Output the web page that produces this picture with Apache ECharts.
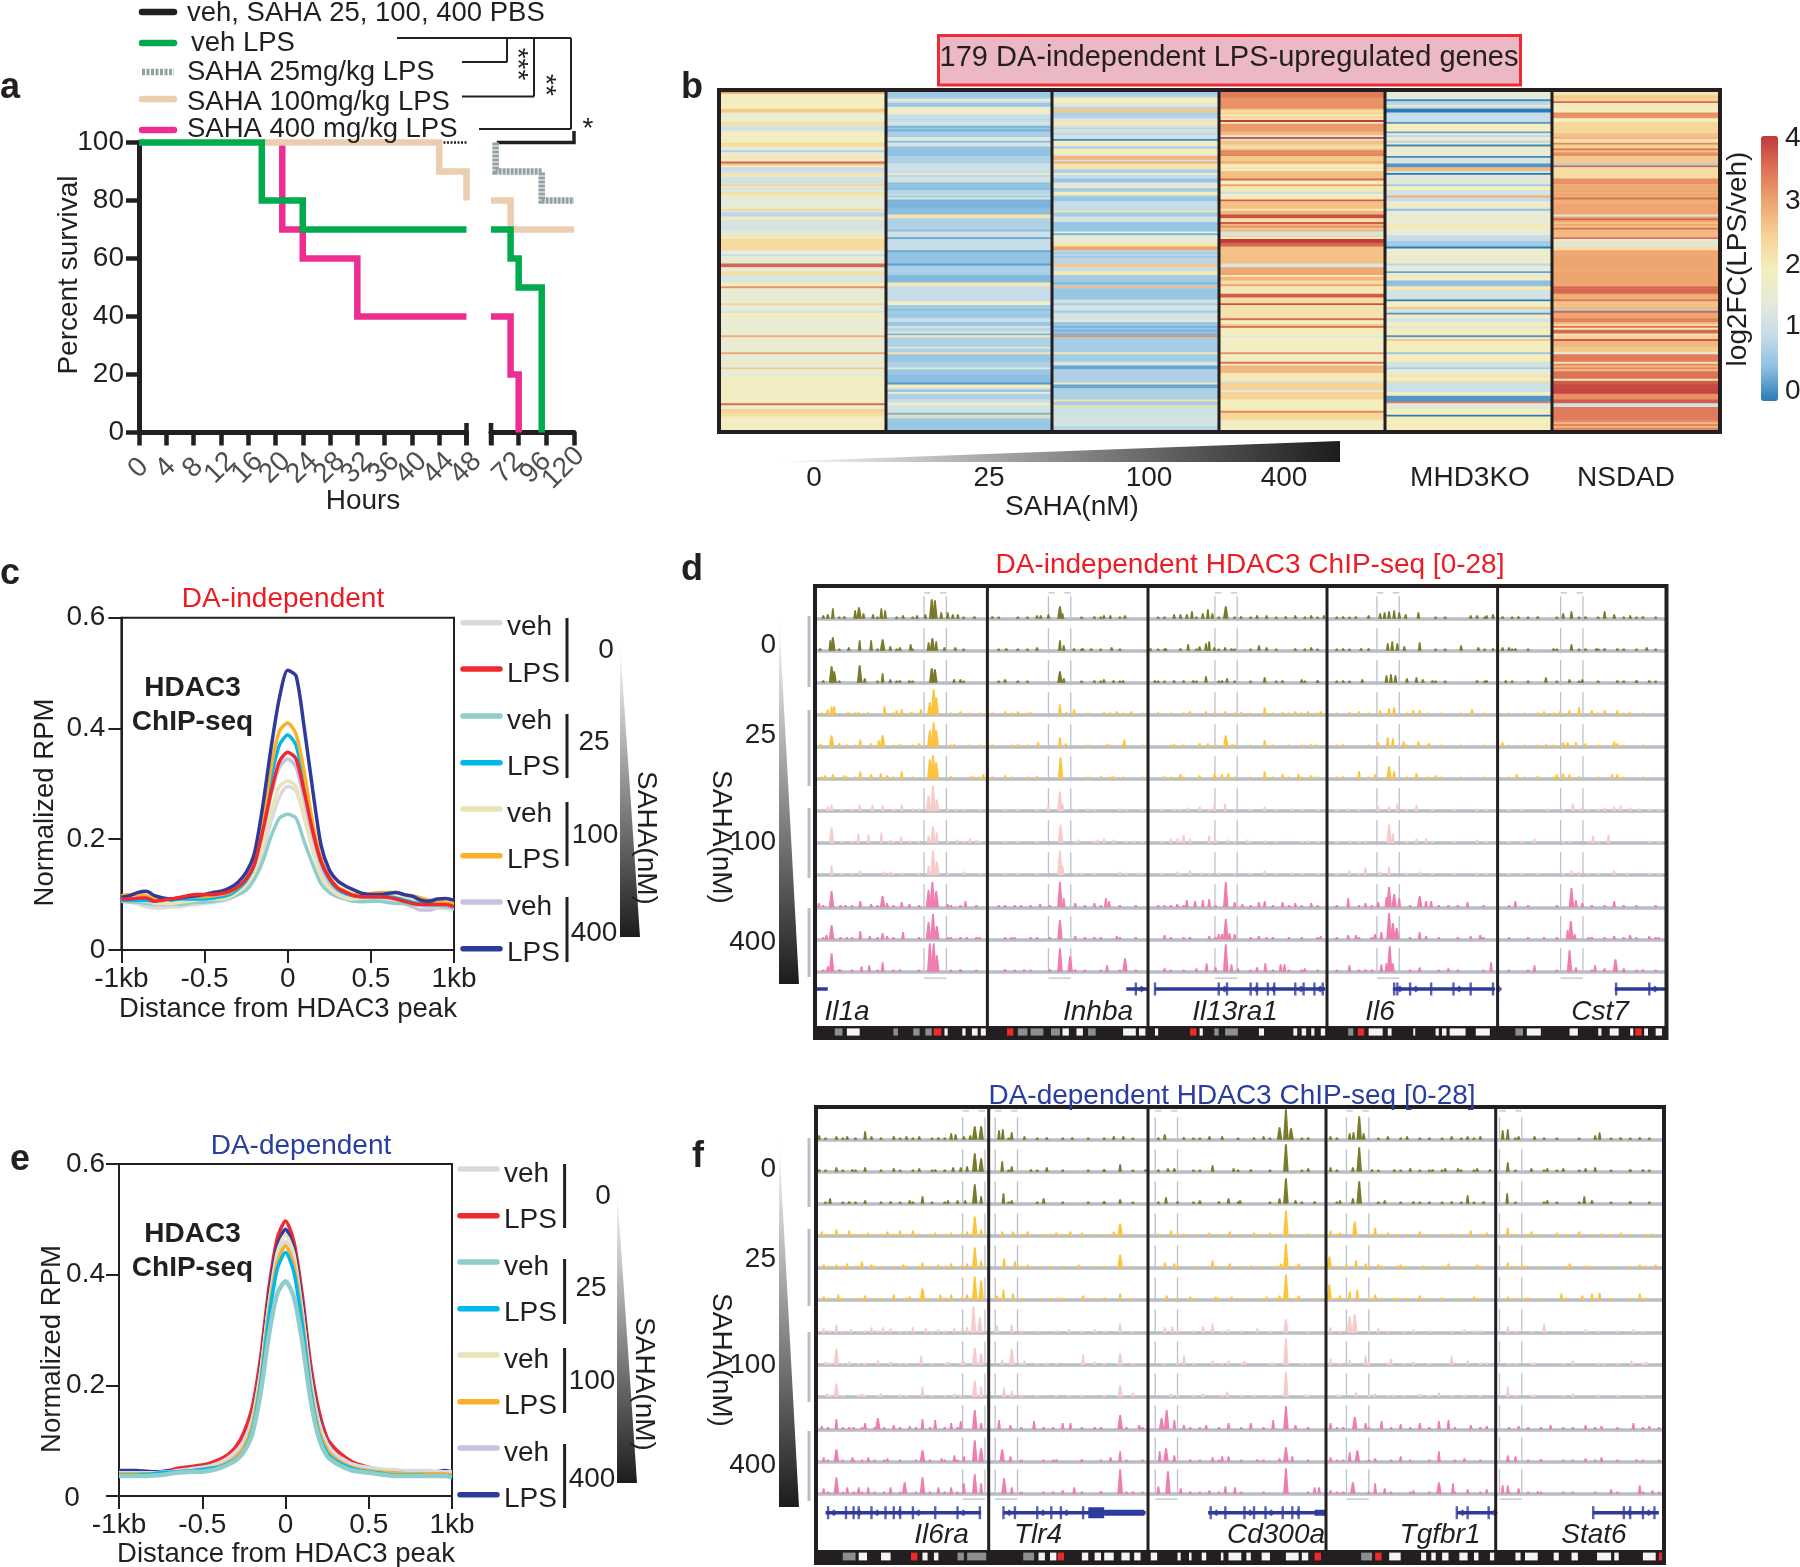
<!DOCTYPE html>
<html><head><meta charset="utf-8"><style>html,body{margin:0;padding:0;background:#fff}#c{width:1800px;height:1567px}</style>
<script src="https://cdn.jsdelivr.net/npm/echarts@6/dist/echarts.min.js"></script></head><body><div id="c"></div>
<script>
// ---------- panel a: survival ----------
const survTicksLeft=[0,4,8,12,16,20,24,28,32,36,40,44,48];
const survTicksRight=[72,96,120];
const blackL=[[0,100],[48,100]];
const blackR=[[53,100],[120,100],[120,104]];
const grayL=[[18,100],[44,100]];
const grayR=[[52,100],[52,90],[92,90],[92,80],[120,80]];
const tanL=[[18,100],[44,100],[44,90],[48,90],[48,80]];
const tanR=[[48,80],[65,80],[65,70],[120,70]];
const pinkL=[[21,100],[21,70],[24,70],[24,60],[32,60],[32,40],[48,40]];
const pinkR=[[48,40],[65,40],[65,20],[72,20],[72,0]];
const greenL=[[0,100],[18,100],[18,80],[24,80],[24,70],[48,70]];
const greenR=[[48,70],[65,70],[65,60],[72,60],[72,50],[92,50],[92,0]];
const survLegend=['veh, SAHA 25, 100, 400 PBS','veh LPS','SAHA 25mg/kg LPS','SAHA 100mg/kg LPS','SAHA 400 mg/kg LPS'];
// ---------- panel b: heatmap ----------
const heatCols=['0','25','100','400','MHD3KO','NSDAD'];
const heat0=[3,2,2,1.9,2.1,1.8,2,1.9,2,2.6,
2.6,1.7,1.7,1.7,1.7,1.7,2.3,2.2,1.2,1.1,
1.3,1.9,2,1.9,1.9,2,1.9,2.4,2.3,1.7,
1.6,.8,1.5,1.6,2.2,1.8,1.8,3.6,2.6,1.9,
1,1,1.2,2.2,2.1,1.2,1.2,1.1,1.3,2.5,
1.4,1.3,1.4,2.3,2.2,1.5,1.5,1.5,1.5,1.5,
1.5,1.5,2.4,1.3,.9,.9,1.5,2.1,1.2,1.2,
1.2,1.2,1.2,1.4,1.4,1.4,2.1,2.1,2.35,2.35,
2.35,2.35,2.35,2.35,1.5,1.5,1,1.5,1.5,1.5,
1.5,3.6,3.6,1.5,1.5,2.3,2.3,1.3,1.3,1.3,
1.3,2,2,3.2,1.6,1.6,1.6,1.6,1.6,1.6,
1.6,1.6,2.5,1.5,1.5,1.5,1.2,1.9,1.9,1.9,
1.6,1.6,1.6,1.6,1.6,1.6,1.6,1.6,1.6,2.9,
1.6,1.6,1.6,1.6,1.6,1.6,1.6,1.6,3,1.5,
1.5,1.5,1.5,2.1,1.5,1.5,2.6,1.6,1.6,1.6,
1.6,1.9,1.9,1.9,1.9,1.9,1.9,1.9,1.9,1.9,
1.9,1.9,1.9,2,1.7,3.6,1.7,1.7,2.5,2.5,
2.3,2.3,1.9,1.9,1.9,1.9,1.9,1.9,1.9];
const heat25=[.65,.65,.65,.9,1.7,1,.6,.6,1.6,1.9,
1.8,1.7,1,1,.9,1,1.2,1.2,.4,.6,
.4,.7,.7,.7,1.4,1.4,.5,1.3,1.3,.55,
.55,.5,.55,.55,.8,.8,.8,.8,1.1,1.1,
1.1,1.1,1,1.8,.9,1.2,1.2,1.2,.5,.5,
.5,.5,.85,.85,1.1,.7,1.3,.4,.4,.4,
.4,.45,.5,.5,.5,2.2,2.2,.8,.8,.8,
.8,.8,.9,.5,1.1,1.1,1.1,.3,1,1,
1,1,1,1,.3,.55,.55,.55,.55,.55,
.55,.25,.75,.75,.75,.75,.75,.45,.45,.45,
.45,2.1,2.1,1,1,1,1,1,1,1,
1,1.9,1.9,.7,.7,.5,.7,.7,.6,.7,
1,1,.6,.6,1.2,.9,.9,1.4,.4,2.1,
.8,.8,.8,.8,.8,1.4,.8,.8,2.2,.6,
.6,.6,.6,.8,.8,.8,1.4,.6,.6,.6,
.5,.5,.5,.5,.2,1.9,1.9,.9,.6,1.7,
.8,.8,.8,1.1,1.1,2,1.1,1.2,1.2,1.2,
.4,2.3,1.1,.6,.6,.6,.6,.6,.6];
const heat100=[.7,.7,.9,2,2,2,1.4,1.4,.9,2.6,
2.6,.8,.8,.8,1.4,1.4,2.1,2.1,1.2,.9,
1.3,1.1,.9,1.2,1.1,.1,1.8,1.8,1.8,.7,
2,2,2,1.3,2.8,2.8,1.2,2.9,2.2,2.2,
2.2,.8,.8,1.9,1,1,.6,.6,1.4,1.4,
1.8,.7,.7,2,2,.7,.6,.6,1,1,
1,1,1,2.2,.7,.7,1.2,1.2,1.2,.6,
.6,.6,.6,.6,1.5,.4,1.5,1.5,1.5,1.5,
2.2,2.2,3,3,.9,.7,.9,.7,.9,.9,
.9,2.6,2.6,1,1,2.1,2.1,.7,.7,.7,
.7,.4,.7,2.7,.6,.6,.6,.6,.6,.6,
1.1,1.1,.7,1.1,1.3,1.1,.7,1.1,1.3,1.1,
1.3,1.5,.6,.6,.4,.6,.4,.6,.4,3.2,
.7,.7,.7,.7,.7,.7,.7,.7,2.2,.7,
.7,.7,.7,1.3,1.3,.3,.3,.8,.8,.8,
.8,.8,.8,.8,1.7,.3,.3,.8,.8,.8,
.8,.8,.8,2.2,.7,.7,2.3,1.1,1.1,1.1,
1.1,1.2,1.2,1.2,1.2,1.2,1.2,.9,.9];
const heat400=[3.4,3.4,3.4,3.2,3.2,3.2,3.2,3.2,3.2,2.6,
2.2,2.5,2,2.5,2.2,4,1.9,3.1,3.1,3.1,
3.1,2.8,2.8,1.5,3.7,1.3,2.7,2.7,2.4,2.2,
2.7,3.3,3.3,3.3,2.6,2.6,2.6,3,2.2,2,
2.2,2,2.7,2.7,2.7,2.7,3.6,2,2,3,
2.1,2.1,2.1,1,2,2,2,3.7,2.7,2.7,
2.7,2.7,2.1,2.8,2.8,3.8,3.8,2.3,2.3,3.7,
2.8,3.2,2.6,2.8,1.2,1.2,2.4,2,4,4,
3.6,3.6,2.7,2.7,2.7,2.7,2.7,2.7,2.7,2.7,
2.7,1.3,1.3,3,3,3,3,2,2.8,2.8,
2.3,2.3,3,2.1,2.1,2.1,2.1,3.7,3.7,2.3,
2.3,2.3,3.8,2.2,2.2,2.2,2.2,2.2,2.2,2.2,
3.6,2,2,2.6,3.6,2,2,2,2,1.4,
1.9,1.9,1.9,1.9,1.9,1.9,1.9,1.9,3.2,1.9,
1.9,1.9,1.9,3.5,1.9,2.8,2.8,2.8,2.8,2.1,
2.1,2.1,2.1,1.2,2.5,2.5,2.5,2.5,1.4,2.5,
2.5,2.5,2.5,2,2,2,2,2,2,3.3,
2.4,2.4,2.4,2.4,1.9,1.9,1.9,1.9,1.9];
const heatMHD=[1.5,1.5,1.5,1.5,.1,.9,.9,2,.9,0,
0,1,1,1,1,1,.2,2,2,2,
2,.3,1.5,.9,1.8,1.5,.9,1.8,.1,1.9,
1.6,1.6,1.6,1.6,.1,1.3,1.3,1.3,.2,.2,
2.8,2.8,1.2,0,1.4,1.4,1.4,1.4,1.4,.7,
2,2,1.2,1.2,1.2,2.9,1,1,1.7,1.7,
1.7,1.7,.5,1.6,1.6,1.6,1.6,1.6,1.6,1.6,
2.1,2.1,1.6,1.6,1.6,1.6,1,1,1,.7,
.7,.7,0,1.7,1.7,1.7,1.7,1.7,1.7,1.7,
1.7,.9,1.5,1.5,1.5,.3,1.6,1.6,2,2,
.5,.5,.5,2.1,2.1,1.2,1.2,1.2,1.2,1.2,
0,1.9,1.9,1.9,2.6,1.2,1.2,.2,1.9,1.9,
1.2,1.2,1.9,1.9,1.3,2,2,2,2,.2,
1.9,2.6,2,2,2,2,2,2,.6,2,
2,2,2,1.2,1.2,1.2,.7,1.5,1.5,1.5,
2.2,2,2,2.3,1.1,1.1,1.1,1.1,1.1,1.9,
1.9,.2,.2,.2,3.4,1.4,1.4,1.4,2,2,
2,0,2,2,2,2,2,2,2];
const heatNSDAD=[2.2,2.2,2.6,2.5,2.5,3.6,1.7,2.1,2,2,
2,3.2,3.2,3.2,2,2,2.4,2.4,2.4,2.4,
2.4,2.4,2.7,2.7,2.8,2.2,2.2,3.3,2.5,2.5,
3.5,2.7,3.2,3.2,2.6,2.6,2.6,2.6,.8,3.6,
2.3,2.3,2.3,2.3,2.3,2.3,3.2,3.2,3.2,2.9,
3,2.9,3,2.9,3,2.9,3.5,2.9,2.9,3,
3,3,3,3,3,1.3,3,3.6,3,2.7,
3,2.7,3.5,2.8,2.8,2.8,2.8,3.5,1.5,2.2,
1.3,1.3,2.3,2.3,3,3,3,3,3,3,
3,3,3,3,3,3,3,3,3,3,
3,3,3,3.6,3.6,3.6,3.6,2.9,2.9,2.9,
3.5,2.7,2.7,2.7,2.8,.8,3.6,3,3,3,
3.4,3.4,2.8,2.4,3.5,2,3.6,3.6,2.2,2.5,
2.5,3.7,2.8,2.8,2.8,2.6,2.6,2.6,1.4,3.4,
3.4,3.4,3.4,2.2,3.3,2.8,3.3,2.8,3.5,3.5,
3.5,3.5,2,3.7,3.7,3.9,3.9,3.9,3.9,3.9,
3.2,3.2,3.2,3.7,3.7,1.1,1.1,3.4,3.4,3.4,
3.4,3.4,3.4,3.4,3.3,2.8,3.3,2.8,3.3];
const heatColors=['#2a7ab8','#8cc0e2','#c6dde9','#e6ebd8','#f5edbc','#f6d294','#eea56f','#de7256','#c03a3a'];
// ---------- panels c, e: profiles ----------
const profX=[-1,-.95,-.9,-.85,-.8,-.75,-.7,-.65,-.6,-.55,-.5,-.45,-.4,-.35,-.3,-.25,-.2,-.15,-.1,-.05,0,.05,.1,.15,.2,.25,.3,.35,.4,.45,.5,.55,.6,.65,.7,.75,.8,.85,.9,.95,1];
const profTicks=['-1kb','-0.5','0','0.5','1kb'];
const c_veh0=[.088,.086,.083,.078,.076,.076,.078,.078,.081,.082,.084,.086,.088,.092,.100,.112,.135,.178,.232,.276,.295,.288,.238,.182,.135,.110,.098,.092,.088,.086,.088,.090,.090,.090,.088,.084,.080,.078,.076,.075,.075];
const c_lps0=[.092,.092,.094,.094,.088,.090,.092,.095,.098,.100,.100,.100,.102,.106,.114,.128,.155,.215,.285,.340,.357,.345,.285,.215,.160,.130,.112,.104,.098,.096,.096,.096,.095,.092,.088,.084,.082,.082,.082,.082,.078];
const c_veh25=[.088,.087,.086,.084,.082,.082,.084,.082,.084,.086,.086,.088,.090,.094,.100,.108,.128,.160,.205,.238,.245,.238,.195,.155,.120,.104,.096,.092,.088,.088,.088,.088,.086,.084,.084,.082,.082,.080,.080,.078,.076];
const c_lps25=[.090,.090,.090,.090,.088,.092,.090,.092,.092,.092,.092,.094,.096,.100,.110,.125,.155,.225,.310,.370,.388,.370,.300,.220,.160,.128,.110,.102,.098,.096,.096,.096,.096,.094,.090,.086,.084,.084,.086,.084,.082];
const c_veh100=[.094,.092,.090,.088,.084,.084,.084,.086,.088,.090,.092,.092,.092,.096,.104,.118,.142,.190,.250,.295,.305,.295,.240,.180,.135,.112,.100,.094,.092,.094,.096,.098,.098,.096,.094,.090,.086,.086,.084,.082,.082];
const c_lps100=[.098,.100,.100,.098,.094,.092,.092,.094,.096,.096,.096,.098,.100,.104,.114,.128,.160,.235,.330,.395,.410,.390,.320,.230,.165,.132,.114,.106,.100,.100,.102,.104,.104,.104,.100,.098,.094,.090,.088,.086,.084];
const c_veh400=[.090,.090,.088,.086,.082,.082,.084,.084,.086,.088,.088,.090,.092,.096,.106,.120,.148,.205,.280,.330,.345,.330,.270,.200,.150,.120,.106,.100,.096,.096,.094,.092,.090,.088,.084,.078,.072,.072,.076,.076,.074];
const c_lps400=[.095,.098,.104,.106,.098,.094,.092,.094,.096,.098,.100,.104,.106,.112,.122,.140,.175,.260,.365,.455,.505,.495,.400,.290,.190,.145,.125,.115,.108,.102,.100,.100,.102,.104,.100,.097,.090,.088,.092,.093,.090];
const e_veh0=[.042,.042,.042,.042,.042,.043,.044,.046,.048,.050,.052,.055,.060,.068,.080,.100,.140,.225,.345,.430,.460,.425,.335,.215,.135,.095,.076,.066,.058,.054,.052,.050,.048,.048,.046,.046,.046,.046,.045,.044,.044];
const e_lps0=[.038,.038,.040,.040,.042,.044,.046,.050,.052,.054,.056,.060,.066,.074,.088,.115,.160,.250,.375,.465,.497,.460,.365,.240,.155,.105,.085,.072,.062,.056,.052,.048,.046,.044,.042,.040,.040,.040,.040,.040,.040];
const e_veh25=[.036,.036,.036,.036,.037,.038,.040,.042,.043,.044,.044,.046,.050,.056,.064,.080,.112,.185,.290,.365,.388,.360,.280,.175,.105,.072,.060,.052,.046,.044,.042,.040,.038,.036,.036,.036,.036,.036,.036,.036,.034];
const e_lps25=[.038,.038,.038,.039,.040,.042,.043,.044,.045,.046,.048,.050,.052,.058,.066,.082,.118,.200,.320,.410,.440,.405,.310,.190,.112,.078,.064,.056,.050,.046,.044,.042,.040,.038,.038,.038,.038,.037,.037,.037,.036];
const e_veh100=[.040,.040,.040,.040,.041,.042,.043,.045,.046,.048,.050,.052,.056,.062,.072,.092,.132,.218,.345,.440,.472,.438,.335,.205,.125,.088,.070,.060,.054,.050,.048,.046,.045,.044,.043,.042,.042,.042,.041,.041,.040];
const e_lps100=[.040,.040,.040,.040,.040,.041,.042,.044,.045,.046,.048,.050,.054,.060,.070,.088,.126,.210,.332,.422,.452,.418,.322,.198,.120,.084,.068,.058,.052,.048,.046,.044,.043,.042,.041,.040,.040,.040,.040,.040,.039];
const e_veh400=[.042,.042,.042,.041,.041,.042,.043,.045,.046,.048,.050,.052,.056,.064,.076,.096,.136,.220,.340,.428,.456,.420,.328,.208,.130,.090,.072,.062,.056,.052,.050,.048,.047,.046,.045,.044,.044,.044,.043,.042,.042];
const e_lps400=[.046,.046,.046,.045,.044,.044,.045,.046,.048,.050,.052,.054,.058,.066,.078,.100,.142,.232,.360,.450,.482,.446,.350,.222,.140,.096,.076,.064,.056,.052,.050,.048,.047,.046,.045,.044,.044,.044,.044,.046,.044];
const profLabels=['veh','LPS','veh','LPS','veh','LPS','veh','LPS'];
// ---------- panel d: ChIP tracks [pos, signal] ----------
const d01=[[225,2],[232,3],[240,9],[258,1],[275,7],[281,10],[288,4],[303,3],[316,9],[322,7],[350,2],[372,2],[385,3],[395,18],[400,17],[410,5],[420,5],[428,3],[436,3],[462,1],[490,1],[560,2],[566,2],[578,3],[596,11],[600,4],[650,1],[665,2],[675,2],[698,2],[775,3],[785,3],[795,3],[803,6],[820,4],[828,8],[835,4],[856,11],[880,1],[905,2],[920,2],[950,1],[965,2],[990,2],[1010,2],[1040,1],[1060,1],[1080,2],[1098,4],[1105,5],[1112,6],[1120,7],[1128,5],[1138,3],[1158,5],[1240,2],[1250,2],[1265,2],[1275,3],[1290,1],[1315,1],[1345,1],[1385,4],[1398,6],[1420,1],[1450,6],[1465,3],[1490,2],[1510,1]];
const d02=[[220,1],[236,9],[240,12],[265,2],[282,9],[300,9],[318,10],[330,3],[345,2],[362,5],[390,7],[396,11],[402,8],[415,2],[432,2],[512,1],[560,2],[596,9],[602,4],[618,1],[632,1],[645,1],[677,2],[738,1],[762,1],[785,1],[797,5],[815,3],[825,6],[830,8],[838,2],[855,2],[865,1],[908,4],[920,2],[965,1],[990,2],[1040,1],[1068,1],[1080,1],[1110,6],[1117,8],[1125,6],[1136,3],[1160,7],[1225,4],[1252,2],[1275,1],[1290,2],[1300,2],[1310,1],[1370,1],[1398,5],[1420,1],[1437,1],[1450,1],[1470,1],[1516,2]];
const d03=[[225,1],[238,15],[242,10],[282,16],[290,3],[318,8],[330,2],[345,1],[360,1],[395,13],[400,12],[430,2],[440,2],[510,2],[596,10],[602,3],[650,1],[665,2],[680,1],[695,1],[745,1],[775,1],[790,1],[805,1],[825,5],[850,1],[858,3],[917,4],[945,1],[975,2],[1000,1],[1040,1],[1070,2],[1108,6],[1115,7],[1122,6],[1140,3],[1155,4],[1165,2],[1180,1],[1250,1],[1265,1],[1295,1],[1358,4],[1395,2],[1415,2],[1470,1],[1500,1],[1520,1]];
const d04=[[232,4],[238,7],[242,7],[265,1],[280,1],[295,1],[321,7],[340,3],[348,4],[362,1],[378,4],[392,11],[398,24],[402,16],[440,2],[510,2],[530,2],[550,1],[596,9],[606,1],[618,4],[665,1],[685,2],[708,2],[750,1],[800,2],[825,2],[855,2],[880,1],[917,6],[945,1],[965,2],[985,2],[1005,2],[1050,1],[1065,2],[1098,3],[1112,5],[1120,6],[1150,3],[1160,3],[1242,4],[1355,2],[1380,2],[1395,3],[1410,6],[1430,3],[1450,3],[1470,3],[1490,1]];
const d05=[[220,1],[238,10],[250,2],[283,6],[300,2],[312,5],[318,10],[345,1],[375,2],[392,15],[398,23],[402,15],[430,1],[530,1],[562,3],[596,8],[605,2],[670,1],[697,6],[775,1],[815,2],[828,2],[856,10],[866,1],[917,5],[990,1],[1040,1],[1095,3],[1110,8],[1118,7],[1135,4],[1158,4],[1175,2],[1290,3],[1358,1],[1385,3],[1392,3],[1405,3],[1420,2],[1465,4],[1470,2]];
const d06=[[228,2],[240,3],[258,2],[283,6],[300,3],[315,4],[325,2],[348,6],[392,18],[397,22],[402,15],[425,1],[460,1],[476,3],[510,2],[560,1],[597,20],[660,1],[680,1],[760,1],[785,3],[815,2],[838,3],[850,3],[860,4],[917,6],[945,3],[970,3],[990,2],[1040,1],[1065,6],[1090,3],[1112,11],[1120,6],[1155,4],[1185,2],[1312,3],[1345,1],[1375,3],[1385,4],[1395,3],[1410,1],[1462,3],[1470,3]];
const d07=[[232,3],[238,5],[282,5],[302,5],[318,4],[348,5],[365,1],[390,14],[397,24],[403,10],[432,1],[530,1],[578,4],[596,18],[600,6],[640,1],[690,1],[775,1],[797,2],[815,3],[838,4],[855,6],[917,3],[960,1],[1048,1],[1095,3],[1112,3],[1125,6],[1155,5],[1250,1],[1360,1],[1400,6],[1414,2],[1450,2],[1465,3],[1475,4],[1490,2],[1505,1]];
const d08=[[238,14],[280,8],[296,7],[316,9],[330,2],[347,5],[360,1],[390,6],[397,15],[403,9],[435,2],[455,3],[465,2],[530,1],[597,17],[625,2],[655,2],[665,3],[680,2],[712,1],[770,3],[780,3],[790,7],[800,3],[830,6],[840,2],[860,2],[890,2],[917,1],[985,1],[1050,1],[1075,1],[1112,17],[1118,8],[1155,3],[1170,3],[1250,2],[1340,3],[1395,1],[1432,6],[1456,7]];
const d09=[[238,8],[282,3],[320,2],[330,2],[348,1],[390,8],[397,23],[403,12],[445,2],[530,1],[596,23],[600,8],[630,1],[690,2],[718,1],[780,2],[800,3],[818,1],[845,1],[917,3],[960,1],[1050,3],[1075,6],[1098,2],[1112,7],[1160,2],[1250,1],[1345,1],[1398,3],[1410,2],[1465,3],[1485,1]];
const d10=[[218,3],[238,15],[260,1],[283,5],[300,2],[318,10],[325,3],[348,4],[360,2],[390,16],[396,24],[402,15],[420,2],[448,5],[500,1],[535,1],[565,2],[596,24],[602,8],[620,3],[650,3],[668,8],[673,5],[750,1],[780,2],[795,6],[808,5],[820,6],[830,7],[856,24],[870,4],[882,2],[908,4],[917,5],[945,4],[965,3],[990,3],[1048,8],[1075,3],[1095,4],[1108,9],[1112,19],[1120,12],[1128,8],[1160,10],[1170,5],[1178,5],[1205,1],[1235,4],[1310,5],[1398,18],[1405,6],[1415,3],[1465,5]];
const d11=[[230,3],[238,13],[262,1],[283,7],[298,2],[318,5],[325,2],[350,6],[390,16],[397,24],[403,12],[420,1],[450,1],[470,1],[520,1],[560,1],[596,18],[620,2],[650,1],[685,2],[760,3],[800,1],[830,2],[845,4],[850,4],[856,19],[862,5],[870,4],[908,2],[920,1],[1005,2],[1048,3],[1060,3],[1090,4],[1100,6],[1112,25],[1118,15],[1124,10],[1160,6],[1170,2],[1240,2],[1255,3],[1355,1],[1392,8],[1397,17],[1403,4],[1425,1],[1465,2],[1490,3],[1520,2],[1535,1]];
const d12=[[232,4],[238,17],[250,1],[285,4],[297,5],[318,8],[345,1],[392,27],[398,27],[403,15],[440,1],[510,1],[540,1],[580,1],[596,22],[612,14],[620,1],[670,5],[698,12],[760,2],[810,2],[826,7],[840,3],[856,26],[865,6],[875,2],[905,3],[918,7],[942,6],[948,6],[980,2],[1050,5],[1075,1],[1100,6],[1108,7],[1113,24],[1118,7],[1160,3],[1205,2],[1272,8],[1340,5],[1395,20],[1405,3],[1435,5],[1450,2],[1467,11],[1480,2],[1510,1]];
// low-level background signal read along each colour group of tracks
const dLowOlive=[250,310,340,365,445,500,530,545,630,660,690,750,760,810,845,870,895,935,980,1000,1030,1050,1185,1200,1262,1305,1330,1375,1410,1440,1480,1500,1530];
const dLowYellow=[222,262,275,335,365,425,455,470,490,520,545,640,675,695,725,770,790,840,870,895,930,955,975,998,1030,1080,1140,1172,1195,1225,1262,1300,1325,1345,1370,1440,1480,1510];
const dLowPale=[255,270,335,375,420,445,470,510,560,620,650,700,725,755,785,830,870,895,935,975,1000,1030,1065,1140,1180,1215,1265,1300,1320,1385,1425,1440,1520,1535];
const dLowPink=[225,252,270,310,335,375,425,440,465,510,525,550,580,635,660,690,715,760,770,790,840,895,930,955,975,1000,1030,1065,1085,1145,1190,1220,1260,1300,1330,1375,1430,1450,1480,1500,1530];
// ---------- panel f: ChIP tracks ----------
const f01=[[218,3],[245,2],[262,2],[290,7],[300,2],[335,2],[355,2],[375,2],[405,1],[425,5],[432,4],[445,2],[455,3],[462,12],[472,12],[500,8],[506,9],[520,6],[540,2],[575,1],[615,1],[680,2],[695,2],[760,4],[790,1],[830,2],[850,2],[900,1],[915,2],[940,11],[950,29],[958,10],[985,1],[1020,2],[1050,5],[1056,6],[1065,22],[1072,5],[1110,2],[1140,2],[1210,2],[1235,2],[1255,2],[1290,8],[1298,9],[1315,2],[1340,2],[1435,3],[1442,6],[1475,1],[1505,1]];
const f02=[[218,1],[245,3],[270,1],[290,3],[335,2],[375,2],[400,1],[428,3],[440,3],[450,4],[462,17],[472,12],[505,9],[520,4],[550,1],[575,3],[665,1],[690,6],[730,1],[765,2],[775,2],[835,5],[868,2],[895,1],[950,26],[985,2],[1020,3],[1055,3],[1065,23],[1085,1],[1120,1],[1145,2],[1180,1],[1200,2],[1220,2],[1250,2],[1270,1],[1298,8],[1335,2],[1360,2],[1385,2],[1420,2],[1435,3],[1490,1],[1510,1]];
const f03=[[235,4],[265,1],[290,2],[330,1],[360,2],[380,6],[420,2],[435,2],[447,2],[462,18],[472,6],[507,9],[520,2],[570,4],[665,1],[690,3],[762,5],[780,1],[815,2],[845,1],[860,4],[878,2],[940,4],[950,24],[965,2],[995,1],[1035,2],[1055,4],[1065,21],[1105,2],[1150,1],[1210,1],[1235,7],[1260,1],[1297,9],[1360,2],[1418,6],[1430,2],[1490,1]];
const f04=[[222,3],[245,5],[265,4],[295,2],[325,3],[345,4],[365,4],[400,2],[425,2],[450,3],[462,18],[472,5],[505,3],[522,3],[545,3],[590,2],[612,3],[630,2],[680,3],[690,11],[750,1],[770,4],[790,1],[830,2],[862,3],[900,2],[925,2],[950,24],[985,1],[1020,4],[1035,2],[1058,13],[1090,7],[1110,2],[1160,3],[1210,1],[1240,4],[1265,2],[1298,7],[1335,3],[1375,2],[1410,3],[1445,1],[1475,2],[1525,1]];
const f05=[[225,2],[245,2],[262,3],[285,5],[300,2],[350,2],[380,4],[405,2],[425,3],[450,3],[462,19],[472,6],[508,8],[525,5],[545,2],[625,2],[690,12],[760,4],[775,3],[835,6],[862,3],[895,1],[942,3],[950,23],[970,3],[1018,10],[1045,2],[1060,6],[1075,3],[1095,2],[1130,2],[1165,1],[1205,3],[1250,2],[1298,4],[1320,1],[1395,3],[1420,1],[1505,2],[1530,2]];
const f06=[[225,2],[248,4],[290,3],[335,4],[360,2],[380,10],[408,4],[425,4],[450,4],[462,22],[472,18],[497,3],[507,9],[522,5],[595,1],[632,3],[665,1],[690,5],[763,3],[800,2],[840,2],[865,2],[920,2],[940,3],[950,24],[970,3],[1018,14],[1035,3],[1050,7],[1062,9],[1090,4],[1120,1],[1160,3],[1195,1],[1245,2],[1298,2],[1330,1],[1382,5],[1415,3],[1430,5],[1442,6],[1505,5]];
const f07=[[225,3],[245,7],[268,2],[300,4],[318,4],[330,3],[365,4],[385,3],[405,2],[430,3],[450,4],[460,25],[470,14],[497,6],[520,7],[610,2],[650,2],[690,8],[760,4],[772,5],[820,5],[835,8],[860,2],[905,3],[950,12],[1020,4],[1050,15],[1058,17],[1095,3],[1150,2],[1230,2],[1245,1],[1298,5],[1355,7],[1420,2],[1495,2]];
const f08=[[228,2],[245,15],[265,2],[310,3],[330,2],[378,8],[420,2],[445,2],[462,16],[472,10],[505,4],[520,15],[540,3],[575,1],[632,9],[650,2],[690,10],[760,1],[790,8],[835,3],[860,3],[885,3],[930,1],[950,25],[975,1],[1020,5],[1050,4],[1075,8],[1115,5],[1150,2],[1210,8],[1235,3],[1265,1],[1300,1],[1340,1],[1400,3],[1450,1],[1492,3],[1515,2]];
const f09=[[230,2],[245,12],[285,2],[315,2],[345,1],[380,9],[430,2],[462,15],[472,9],[508,8],[520,5],[610,1],[690,10],[710,3],[770,2],[820,2],[858,4],[900,1],[950,24],[980,1],[1030,1],[1060,3],[1090,2],[1120,1],[1160,2],[1190,3],[1230,1],[1298,9],[1340,1],[1400,2],[1440,1],[1510,1]];
const f10=[[222,2],[245,9],[265,1],[290,5],[310,10],[335,3],[360,2],[380,9],[400,8],[425,5],[440,7],[462,18],[472,5],[500,8],[518,3],[555,7],[600,5],[612,5],[650,1],[690,13],[720,3],[755,10],[763,18],[775,8],[790,3],[825,3],[860,5],[895,5],[930,8],[950,22],[965,3],[1020,5],[1058,11],[1075,5],[1100,7],[1130,4],[1160,5],[1190,7],[1205,8],[1240,3],[1265,2],[1315,2],[1365,3],[1420,3],[1445,2],[1495,5],[1520,2]];
const f11=[[225,3],[245,11],[270,3],[295,3],[325,2],[380,10],[410,2],[430,5],[445,4],[462,20],[472,12],[505,11],[518,4],[590,1],[630,1],[675,3],[690,9],[752,9],[762,12],[775,5],[835,3],[850,4],[860,4],[905,1],[940,2],[950,13],[960,4],[1020,3],[1050,8],[1062,10],[1090,2],[1130,4],[1190,9],[1230,2],[1298,5],[1310,4],[1350,1],[1420,2],[1445,3],[1500,1]];
const f12=[[225,4],[245,15],[262,5],[280,5],[295,5],[330,5],[352,10],[380,15],[405,5],[425,5],[445,9],[462,18],[472,9],[508,14],[520,5],[600,2],[618,5],[660,1],[690,23],[710,1],[750,6],[765,21],[785,4],[830,2],[855,6],[870,5],[950,24],[995,5],[1002,5],[1020,2],[1055,10],[1090,9],[1105,4],[1150,2],[1190,10],[1212,9],[1235,3],[1265,3],[1290,7],[1298,7],[1315,4],[1345,1],[1460,3],[1505,7],[1525,2]];
const fLowOlive=[228,255,275,315,345,365,395,415,515,560,600,640,665,710,750,805,815,875,925,975,1030,1095,1130,1160,1175,1195,1225,1245,1310,1355,1375,1410,1460,1490,1520];
const fLowYellow=[232,255,275,285,305,315,335,355,375,390,415,440,535,565,580,600,650,665,705,780,810,845,880,910,935,965,1000,1030,1080,1100,1125,1140,1175,1195,1225,1255,1310,1325,1350,1390,1430,1460,1490,1515];
const fLowPale=[235,255,280,290,310,345,355,395,415,440,535,560,590,630,665,710,780,805,850,880,925,985,1035,1080,1110,1135,1175,1210,1255,1310,1335,1385,1440,1470,1510];
const fLowPink=[232,255,272,285,305,320,345,370,392,415,435,535,570,585,630,660,700,725,800,815,845,880,915,985,1030,1040,1080,1115,1145,1175,1215,1255,1300,1330,1350,1385,1400,1435,1470,1510,1535];
// ---------- genes ----------
const dGeneSpans=[[212,232],[700,735],[745,1012],[1118,1278],[1466,1545]];
const dExons=[715,745,845,858,895,905,922,932,965,978,995,1008,1120,1125,1145,1178,1213,1240,1275,1468,1520];
const dGeneNames=['Il1a','Inhba','Il13ra1','Il6','Cst7'];
const fGeneSpans=[[228,472],[507,730],[828,1012],[1218,1275],[1432,1535]];
const fExons=[232,260,272,280,300,322,335,345,365,400,435,470,507,525,560,582,597,632,832,855,885,900,918,945,960,970,1218,1235,1268,1432,1480,1490,1510,1528];
const fGeneThick=[[640,665,11],[665,728,6],[995,1012,6]];
const fGeneNames=['Il6ra','Tlr4','Cd300a','Tgfbr1','Stat6'];
// ---------- ideograms ----------
const dIdeoWhite=[[262,282],[415,420],[443,448],[458,467],[472,480],[600,610],[622,632],[695,715],[720,730],[745,750],[815,820],[908,916],[962,968],[975,982],[990,995],[1005,1012],[1080,1102],[1110,1116],[1150,1153],[1185,1190],[1195,1202],[1207,1232],[1248,1270],[1328,1350],[1395,1408],[1440,1445],[1458,1472],[1490,1495],[1512,1518],[1530,1540]];
const dIdeoGray=[[243,255],[335,342],[366,376],[385,395],[530,545],[550,570],[582,596],[640,652],[838,845],[855,875],[1048,1056],[1310,1322]];
const dIdeoRed=[[398,410],[513,523],[800,810],[1063,1073],[1498,1508]];
const fIdeoWhite=[[280,293],[315,330],[380,388],[398,405],[562,572],[580,590],[630,640],[650,660],[665,680],[692,705],[712,722],[738,748],[780,785],[798,802],[818,825],[848,852],[860,880],[888,895],[912,925],[950,970],[975,985],[1112,1130],[1162,1170],[1178,1185],[1195,1205],[1222,1235],[1245,1252],[1270,1278],[1310,1318],[1325,1345],[1370,1378],[1398,1408],[1438,1460],[1465,1472],[1510,1530]];
const fIdeoGray=[[255,275],[435,445],[450,480],[538,555],[1068,1085]];
const fIdeoRed=[[362,372],[592,602],[995,1005],[1090,1100],[1535,1540]];

// ---------- layout & style ----------
const FONT='"Liberation Sans",Arial,sans-serif', INK='#231f20';
const graphics=[];
function txt(x,y,text,o={}){graphics.push({type:'text',x,y:y+(o.rot?0:2),rotation:o.rot||0,z:200,style:{text,fill:o.color||INK,font:(o.italic?'italic ':'')+(o.bold?'bold ':'')+(o.size||28)+'px '+FONT,textAlign:o.align||'center',textVerticalAlign:'middle'}});}
function seg(x1,y1,x2,y2,w=2,c=INK,z=150){graphics.push({type:'line',z,shape:{x1,y1,x2,y2},style:{stroke:c,lineWidth:w}});}
function box(x,y,w,h,lw,stroke,fill){graphics.push({type:'rect',z:fill?140:150,shape:{x,y,width:w,height:h},style:{fill:fill||'none',stroke,lineWidth:lw}});}
function wedge(pts,horizontal){graphics.push({type:'polygon',z:140,shape:{points:pts},style:{fill:new echarts.graphic.LinearGradient(0,0,horizontal?1:0,horizontal?0:1,[{offset:0,color:'#ffffff'},{offset:1,color:'#1c1c1c'}])}});}

const grids=[],xAxes=[],yAxes=[],series=[];
function addGrid(g,x,y){grids.push(g);x.gridIndex=grids.length-1;y.gridIndex=grids.length-1;xAxes.push(x);yAxes.push(y);return grids.length-1;}
const hiddenAxis=(min,max,extra={})=>Object.assign({type:'value',min,max,show:false},extra);

// panel a
const aAxisCommon={type:'value',axisLine:{show:true,lineStyle:{color:INK,width:5}},axisTick:{show:true,inside:false,length:13,lineStyle:{color:INK,width:4.5}},splitLine:{show:false}};
const aL=addGrid({left:139,top:142.5,width:327.5,height:290},
 Object.assign({},aAxisCommon,{min:0,max:48,interval:4,axisLabel:{show:false}}),
 Object.assign({},aAxisCommon,{min:0,max:100,interval:20,axisLabel:{fontFamily:FONT,fontSize:28,color:INK,margin:15}}));
const aR=addGrid({left:491,top:142.5,width:83,height:290},
 Object.assign({},aAxisCommon,{min:48,max:120,interval:24,axisLabel:{show:false}}),
 hiddenAxis(0,100));
const tickLabels=(g,ticks,dx)=>series.push({type:'scatter',xAxisIndex:g,yAxisIndex:g,data:ticks.map(v=>[v,0]),symbol:'circle',symbolSize:1,silent:true,clip:false,z:5,itemStyle:{color:'transparent'},labelLayout:{hideOverlap:false},label:{show:true,formatter:p=>String(p.value[0]),position:[dx,36],rotate:45,align:'center',verticalAlign:'middle',fontFamily:FONT,fontSize:28,color:INK}});
tickLabels(aL,survTicksLeft,0); tickLabels(aR,survTicksRight,-10);
const aLine=(g,data,color,width,extra={})=>series.push({type:'line',xAxisIndex:g,yAxisIndex:g,data,symbol:'none',silent:true,clip:false,lineStyle:Object.assign({color,width,cap:'butt',join:'miter'},extra),z:3});
aLine(aL,blackL,INK,2.5,{type:[2,1.5]}); aLine(aR,blackR,INK,3.5);
aLine(aL,pinkL,'#ee2d92',6.5); aLine(aR,pinkR,'#ee2d92',6.5);
aLine(aL,grayL,'#9aa5aa',3); aLine(aR,grayR,'#949fa3',6.5,{type:[3,1]});
aLine(aL,tanL,'#ebcdb0',6.5); aLine(aR,tanR,'#ebcdb0',6.5);
aLine(aL,greenL,'#00ab4e',6.5); aLine(aR,greenR,'#00ab4e',6.5);
seg(466.5,423,466.5,445,4.5); seg(491,423,491,445,4.5);
const aLegY=[12,43,72,99,130],aLegC=[INK,'#00ab4e','#949fa3','#ebcdb0','#ee2d92'],aLegX=[187,191,187,187,187],aTxtY=[11,41,70,100,127];
survLegend.forEach((t,i)=>{graphics.push({type:'line',z:150,shape:{x1:142,y1:aLegY[i],x2:174,y2:aLegY[i]},style:{stroke:aLegC[i],lineWidth:6.5,lineCap:i===2?'butt':'round',lineDash:i===2?[3,1.5]:null}});txt(aLegX[i],aTxtY[i],t,{align:'left',size:27.5});});
seg(397,38,571,38); seg(507,38,507,62); seg(462,62,507,62); seg(534,38,534,96.5); seg(462,96.5,534,96.5); seg(571,38,571,129); seg(479,129,571,129);
txt(517,64,'***',{rot:-Math.PI/2,size:28}); txt(545,85,'**',{rot:-Math.PI/2,size:28}); txt(588,127,'*',{size:28});
txt(69,275,'Percent survival',{rot:Math.PI/2}); txt(363,499.5,'Hours');
txt(10,86,'a',{bold:true,size:36,align:'center'});

// panel b
const hg=addGrid({left:719,top:92,width:1000,height:338},
 {type:'category',data:heatCols,show:false},{type:'category',data:heat0.map((_,i)=>i),inverse:true,show:false});
const heatData=[];[heat0,heat25,heat100,heat400,heatMHD,heatNSDAD].forEach((col,c)=>col.forEach((v,r)=>heatData.push([c,r,v])));
const heatSeriesIndex=series.length;
series.push({type:'heatmap',xAxisIndex:hg,yAxisIndex:hg,data:heatData,silent:true,progressive:0});
box(719,90,1001,342,4,INK);
[886,1052,1219,1385,1552].forEach(x=>seg(x,90,x,432,3));
box(938.5,35.5,582,49.5,3,'#ee2a35','#ebb8c4');
txt(1229,56,'179 DA-independent LPS-upregulated genes',{size:29});
wedge([[770,462],[1340,441],[1340,462]],true);
[[814,'0'],[989,'25'],[1149,'100'],[1284,'400'],[1470,'MHD3KO'],[1626,'NSDAD']].forEach(a=>txt(a[0],476,a[1]));
txt(1072,505,'SAHA(nM)');
[[136,'4'],[199,'3'],[263,'2'],[324,'1'],[389,'0']].forEach(a=>txt(1785,a[0],a[1],{align:'left'}));
txt(1738,259,'log2FC(LPS/veh)',{rot:Math.PI/2});
txt(692,86,'b',{bold:true,size:36});

// panels c, e
const pCols={veh0:'#d9dae0',lps0:'#ee2a2e',veh25:'#8fcdcb',lps25:'#00b7ee',veh100:'#e9e3b8',lps100:'#f9b12a',veh400:'#c8c0e0',lps400:'#2e3a9c'};
const legCols=[pCols.veh0,pCols.lps0,pCols.veh25,pCols.lps25,pCols.veh100,pCols.lps100,pCols.veh400,pCols.lps400];
function profile(o){
 const ax={axisLine:{show:true,onZero:false,lineStyle:{color:INK,width:2}},axisTick:{show:true,length:13,lineStyle:{color:INK,width:2}},splitLine:{show:false}};
 const g=addGrid({show:true,borderColor:INK,borderWidth:2,backgroundColor:'transparent',left:o.l,top:o.t,width:o.w,height:o.h},
  Object.assign({type:'value',min:-1,max:1,interval:.5,axisLabel:{fontFamily:FONT,fontSize:28,color:INK,margin:15,showMinLabel:true,showMaxLabel:true,formatter:v=>profTicks[Math.round((v+1)*2)]}},ax),
  Object.assign({type:'value',min:0,max:.6,interval:.2,axisLabel:{fontFamily:FONT,fontSize:28,color:INK,margin:o.yMargin,formatter:v=>v===0?(o.zeroText?'':'0'):v.toFixed(1)}},ax));
 o.series.forEach(s=>series.push({type:'line',xAxisIndex:g,yAxisIndex:g,data:profX.map((x,i)=>[x,s[0][i]]),symbol:'none',smooth:.25,silent:true,lineStyle:{color:s[1],width:s[2]||3.5},z:3}));
 if(o.zeroText) txt(o.zeroText[0],o.zeroText[1],'0');
 const ly=o.legY; ly.forEach((y,i)=>{graphics.push({type:'line',z:150,shape:{x1:o.legX+2,y1:y,x2:o.legX+39,y2:y},style:{stroke:legCols[i],lineWidth:5.5,lineCap:'round'}});txt(o.legX+46,y+3,profLabels[i],{align:'left'});});
 o.bars.forEach(b=>seg(o.barX,b[0],o.barX,b[1],3));
 o.nums.forEach(n=>txt(n[0],n[1],n[2]));
 wedge(o.wedge,false);
 txt(o.sahaX,o.sahaY,'SAHA(nM)',{rot:-Math.PI/2});
 txt(o.yTitleX,o.yTitleY,'Normalized RPM',{rot:Math.PI/2,size:27.5});
 txt(o.xTitleX,o.xTitleY,'Distance from HDAC3 peak',{size:27.5});
 txt(o.titleX,o.titleY,o.title,{color:o.titleColor});
 txt(192.5,o.hY,'HDAC3',{bold:true}); txt(192.5,o.hY+34,'ChIP-seq',{bold:true});
}
profile({l:121.4,t:617.7,w:332.6,h:332.3,yMargin:16,title:'DA-independent',titleColor:'#ed1c24',titleX:283,titleY:597,
 series:[[c_veh400,pCols.veh400],[c_veh0,pCols.veh0],[c_veh25,pCols.veh25],[c_veh100,pCols.veh100],[c_lps25,pCols.lps25],[c_lps100,pCols.lps100],[c_lps400,pCols.lps400],[c_lps0,pCols.lps0]],
 legX:461,legY:[622.7,669,716,762.7,809,855.7,902,948.7],barX:567,bars:[[618,682],[714,778],[802,866],[897,962]],
 nums:[[606,648,'0'],[594,740,'25'],[595,833,'100'],[594,931,'400']],wedge:[[620,643],[620,937],[640,937]],
 sahaX:646,sahaY:838,yTitleX:45.5,yTitleY:802.5,xTitleX:288,xTitleY:1007,hY:686});
profile({l:119,t:1164,w:333,h:332,yMargin:14,zeroText:[72,1496],title:'DA-dependent',titleColor:'#2a3f9d',titleX:301,titleY:1144,
 series:[[e_lps0,pCols.lps0],[e_lps400,pCols.lps400],[e_veh100,pCols.veh100],[e_veh400,pCols.veh400],[e_veh0,pCols.veh0],[e_lps100,pCols.lps100],[e_lps25,pCols.lps25],[e_veh25,pCols.veh25,4.5]],
 legX:458,legY:[1169,1215.7,1262,1308.7,1355,1401.7,1448,1494.7],barX:564.6,bars:[[1164,1228],[1259,1324],[1348,1413],[1444,1508]],
 nums:[[603,1194,'0'],[591,1286,'25'],[592,1379,'100'],[592,1477,'400']],wedge:[[617,1188],[617,1483],[637,1483]],
 sahaX:644,sahaY:1384,yTitleX:52,yTitleY:1349,xTitleX:286,xTitleY:1552,hY:1232});
txt(10,572,'c',{bold:true,size:36}); txt(20,1158,'e',{bold:true,size:36});

// panels d, f
const olive='#7a7a2a',yellow='#fcc43c',lpink='#f6ccc8',hpink='#ee7db0',BASE='#b9bec6',GENE='#2e3a9c';
const trackColors=[olive,olive,olive,yellow,yellow,yellow,lpink,lpink,lpink,hpink,hpink,hpink];
function ideo(g,list,color){series.push({type:'custom',xAxisIndex:g,yAxisIndex:g,silent:true,data:list,clip:true,z:4,encode:{x:[0,1]},renderItem:(p,api)=>{const a=api.coord([api.value(0),.2]),b=api.coord([api.value(1),.8]);return {type:'rect',shape:{x:a[0],y:b[1],width:b[0]-a[0],height:a[1]-b[1]},style:{fill:color}};}});}
function peaks(g,data,color){series.push({type:'custom',xAxisIndex:g,yAxisIndex:g,silent:true,data,clip:false,z:3,encode:{x:0,y:1},renderItem:(p,api)=>{const v=api.value(0),h=api.value(1),a=api.coord([v,0]),b=api.coord([v,h+1.4]),w=h>=10?2.8:1.9,t=h>=10?.9:.8;return {type:'polygon',shape:{points:[[a[0]-w,a[1]],[a[0]-t,b[1]],[a[0]+t,b[1]],[a[0]+w,a[1]]]},style:{fill:color}};}});}
function browser(o){
 const xMin=o.xMin,xMax=o.xMax,L=o.left,W=o.width;
 const xA=()=>hiddenAxis(xMin,xMax);
 const r0=o.base[0]-32;
 const ov=addGrid({left:L,top:r0,width:W,height:32*13},xA(),hiddenAxis(0,13,{inverse:true}));
 const br=[];o.brackets.forEach(pair=>pair.forEach(x=>{for(let r=0;r<12;r++){br.push([x,r+.3],[x,r+1.08],[x,null]);}}));
 const cap=[];o.brackets.forEach(p=>{cap.push([p[0],o.capTop],[p[0]+10,o.capTop],[p[0],null],[p[1]-10,o.capTop],[p[1],o.capTop],[p[1],null],[p[0],12.23],[p[1],12.23],[p[1],null]);});
 [br,cap].forEach(d=>series.push({type:'line',xAxisIndex:ov,yAxisIndex:ov,data:d,symbol:'none',silent:true,connectNulls:false,z:1,lineStyle:{color:'#bcc0cb',width:1.3}}));
 o.tracks.forEach((t,i)=>{
  const g=addGrid({left:L,top:o.base[i]-28,width:W,height:28},
   Object.assign(xA(),{show:true,axisLine:{show:true,onZero:true,lineStyle:{color:BASE,width:3.6}},axisTick:{show:false},axisLabel:{show:false},splitLine:{show:false}}),hiddenAxis(0,28));
  peaks(g,t.concat(o.low[Math.floor(i/3)].map(x=>[x,.8])),trackColors[i]);
 });
 const gg=addGrid({left:L,top:o.geneY-10,width:W,height:20},xA(),hiddenAxis(0,2));
 const sp=[];o.spans.forEach(s=>sp.push([s[0],1],[s[1],1],[s[1],null]));
 series.push({type:'line',xAxisIndex:gg,yAxisIndex:gg,data:sp,symbol:'none',silent:true,z:3,lineStyle:{color:GENE,width:3.4}});
 (o.thick||[]).forEach(t=>series.push({type:'line',xAxisIndex:gg,yAxisIndex:gg,data:[[t[0],1],[t[1],1]],symbol:'none',silent:true,z:3,lineStyle:{color:GENE,width:t[2],cap:'butt'}}));
 series.push({type:'scatter',xAxisIndex:gg,yAxisIndex:gg,data:o.exons.map(x=>[x,1]),symbol:'rect',symbolSize:[2.4,13],silent:true,itemStyle:{color:GENE},z:3});
 series.push({type:'scatter',xAxisIndex:gg,yAxisIndex:gg,data:o.exons.filter((x,i)=>i%2===0).map(x=>[x+9,1]),symbol:'diamond',symbolSize:[7,7],silent:true,itemStyle:{color:GENE},z:3});
 const ig=addGrid({show:true,backgroundColor:INK,borderWidth:0,left:L,top:o.ideoY,width:W,height:o.ideoH},xA(),hiddenAxis(0,1));
 ideo(ig,o.white,'#f4f4f4'); ideo(ig,o.gray,'#8b8f90'); ideo(ig,o.red,'#ed2a2a');
 box(L,o.top,W,o.bottom-o.top,4,INK);
 o.dividers.forEach(x=>seg(x,o.top,x,o.bottom,3));
 o.geneNames.forEach((n,i)=>txt(o.geneX[i],o.nameY,n,{italic:true}));
 txt(o.titleX,o.titleY,o.title,{color:o.titleColor});
 o.lbars.forEach(b=>seg(o.barX,b[0],o.barX,b[1],3,'#b9bec6'));
 wedge(o.wedge,false);
 o.nums.forEach(n=>txt(776,n[0],n[1],{align:'right'}));
 txt(721,o.sahaY,'SAHA(nM)',{rot:-Math.PI/2});
}
browser({xMin:212,xMax:1547,left:815,width:851.5,top:586,bottom:1038,
 base:[618.7,650.7,682.7,714.7,746.7,778.7,811,843,875,907.3,939.3,971.7],
 tracks:[d01,d02,d03,d04,d05,d06,d07,d08,d09,d10,d11,d12],capTop:.19,low:[dLowOlive,dLowYellow,dLowPale,dLowPink],
 brackets:[[383,418],[578,613],[839,874],[1093,1128],[1381,1416]],
 geneY:989,spans:dGeneSpans,exons:dExons,ideoY:1026,ideoH:12,
 white:dIdeoWhite,gray:dIdeoGray,red:dIdeoRed,dividers:[987.4,1148,1327,1497.6],
 geneNames:dGeneNames,geneX:[847,1098,1235,1380,1600],nameY:1010,
 title:'DA-independent HDAC3 ChIP-seq [0-28]',titleColor:'#ed1c24',titleX:1250,titleY:563,
 barX:809,lbars:[[616,687],[710,786],[808,878],[908,977]],wedge:[[779,616],[779,984],[799,984]],
 nums:[[643,'0'],[733,'25'],[840,'100'],[940,'400']],sahaY:837});
browser({xMin:213,xMax:1543,left:816,width:848,top:1107,bottom:1563,
 base:[1139.7,1171.7,1203.7,1236,1268,1300,1332.7,1365,1397,1429.3,1461.7,1493.7],
 tracks:[f01,f02,f03,f04,f05,f06,f07,f08,f09,f10,f11,f12],capTop:.1,low:[fLowOlive,fLowYellow,fLowPale,fLowPink],
 brackets:[[443,478],[494,529],[745,780],[1045,1080],[1285,1320]],
 geneY:1512.7,spans:fGeneSpans,exons:fExons,thick:fGeneThick,ideoY:1550,ideoH:13,
 white:fIdeoWhite,gray:fIdeoGray,red:fIdeoRed,dividers:[988.7,1148,1326,1495.7],
 geneNames:fGeneNames,geneX:[941.5,1038,1276,1440,1594],nameY:1533,
 title:'DA-dependent HDAC3 ChIP-seq [0-28]',titleColor:'#2a3f9d',titleX:1232,titleY:1094,
 barX:809,lbars:[[1138,1207],[1229,1306],[1332,1402],[1431,1501]],wedge:[[779,1139],[779,1507],[799,1507]],
 nums:[[1167,'0'],[1257,'25'],[1363,'100'],[1463,'400']],sahaY:1360});
txt(692,568,'d',{bold:true,size:36}); txt(698,1155,'f',{bold:true,size:36});

const chart=echarts.init(document.getElementById('c'));
chart.setOption({animation:false,backgroundColor:'#fff',grid:grids,xAxis:xAxes,yAxis:yAxes,series,
 visualMap:{type:'continuous',seriesIndex:heatSeriesIndex,min:0,max:4,left:1746,top:121,itemWidth:17,itemHeight:265,text:null,calculable:false,showLabel:false,inverse:false,inRange:{color:heatColors},hoverLink:false},
 graphic:{elements:graphics}});
</script></body></html>
